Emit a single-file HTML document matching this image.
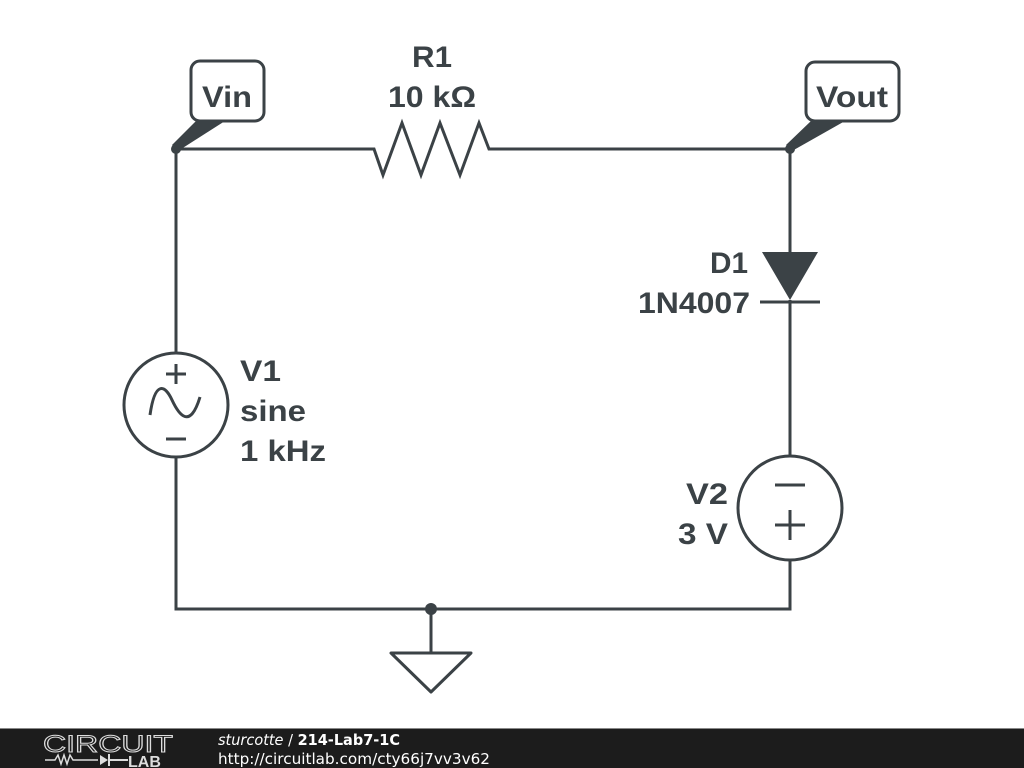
<!DOCTYPE html>
<html><head><meta charset="utf-8"><style>
html,body{margin:0;padding:0;background:#fff;}
svg{display:block;}
</style></head><body>
<svg width="1024" height="768" viewBox="0 0 1024 768" xmlns="http://www.w3.org/2000/svg">
<rect width="1024" height="768" fill="#fff"/>
<g stroke="#3b4246" stroke-width="3" fill="none" stroke-linejoin="miter">
  <path d="M176 149 H374 L383 175 L402 123 L421 175 L440 123 L460 175 L479 123 L489 149 H790"/>
  <path d="M176 149 V353 M176 457 V609 H790 V560 M790 456 V300 M790 252 V149"/>
  <path d="M431 609 V652"/>
  <path d="M391 653 H471 L431 692 Z" stroke-linejoin="round"/>
  <circle cx="176" cy="405" r="52"/>
  <path d="M176 364 V384 M166 374 H186 M166 439 H186"/>
  <path d="M150 415 C155 380 165 385 172 400 S190 430 200 397"/>
  <circle cx="790" cy="508" r="52"/>
  <path d="M775 485 H805 M775 525 H805 M790 510 V540"/>
  <path d="M760 302 H820"/>
  <rect x="191" y="61" width="73" height="60" rx="9"/>
  <rect x="806" y="62" width="93" height="59" rx="9"/>
</g>
<g fill="#3b4246">
  <polygon points="762,252 818,252 790,300"/>
  <circle cx="176" cy="149" r="5"/>
  <circle cx="790" cy="149" r="5"/>
  <circle cx="431" cy="609" r="6"/>
  <polygon points="196,121 225,121 178,151 172,145"/>
  <polygon points="811,121 845,121 792,151 786,145"/>
</g>
<g font-family="Liberation Sans, sans-serif" font-weight="bold" font-size="30" fill="#3b4246" lengthAdjust="spacingAndGlyphs">
  <text x="202" y="107" textLength="50" lengthAdjust="spacingAndGlyphs">Vin</text>
  <text x="816" y="107" textLength="72" lengthAdjust="spacingAndGlyphs">Vout</text>
  <text x="412" y="67" textLength="40" lengthAdjust="spacingAndGlyphs">R1</text>
  <text x="388" y="107" textLength="88" lengthAdjust="spacingAndGlyphs">10 kΩ</text>
  <text x="710" y="273" textLength="38" lengthAdjust="spacingAndGlyphs">D1</text>
  <text x="638" y="313" textLength="112" lengthAdjust="spacingAndGlyphs">1N4007</text>
  <text x="240" y="381" textLength="41" lengthAdjust="spacingAndGlyphs">V1</text>
  <text x="240" y="421" textLength="66" lengthAdjust="spacingAndGlyphs">sine</text>
  <text x="240" y="461" textLength="86" lengthAdjust="spacingAndGlyphs">1 kHz</text>
  <text x="686" y="504" textLength="42" lengthAdjust="spacingAndGlyphs">V2</text>
  <text x="678" y="544" textLength="50" lengthAdjust="spacingAndGlyphs">3 V</text>
</g>
<rect x="0" y="728" width="1024" height="1" fill="#888"/>
<rect x="0" y="729" width="1024" height="39" fill="#1c1c1c"/>
<text x="43" y="752" font-family="Liberation Sans, sans-serif" font-size="24" fill="none" stroke="#ddd" stroke-width="1" textLength="130" lengthAdjust="spacingAndGlyphs">CIRCUIT</text>
<path d="M45 760 H55 L58 755 L61 764 L64 755 L67 764 L70 755 L73 760 H98" stroke="#ddd" stroke-width="1.5" fill="none"/>
<polygon points="100,755 100,765 108,760" fill="#ddd"/>
<path d="M109 754 V766 M109 760 H128" stroke="#ddd" stroke-width="2"/>
<text x="128" y="767" font-family="Liberation Sans, sans-serif" font-weight="bold" font-size="16" fill="#ddd">LAB</text>
<text x="218" y="745" font-family="DejaVu Sans, sans-serif" font-size="15" fill="#fff" textLength="182" lengthAdjust="spacingAndGlyphs"><tspan font-style="italic">sturcotte</tspan> / <tspan font-weight="bold">214-Lab7-1C</tspan></text>
<text x="218" y="764" font-family="DejaVu Sans, sans-serif" font-size="15" fill="#fff" textLength="272" lengthAdjust="spacingAndGlyphs">http://circuitlab.com/cty66j7vv3v62</text>
</svg>
</body></html>
